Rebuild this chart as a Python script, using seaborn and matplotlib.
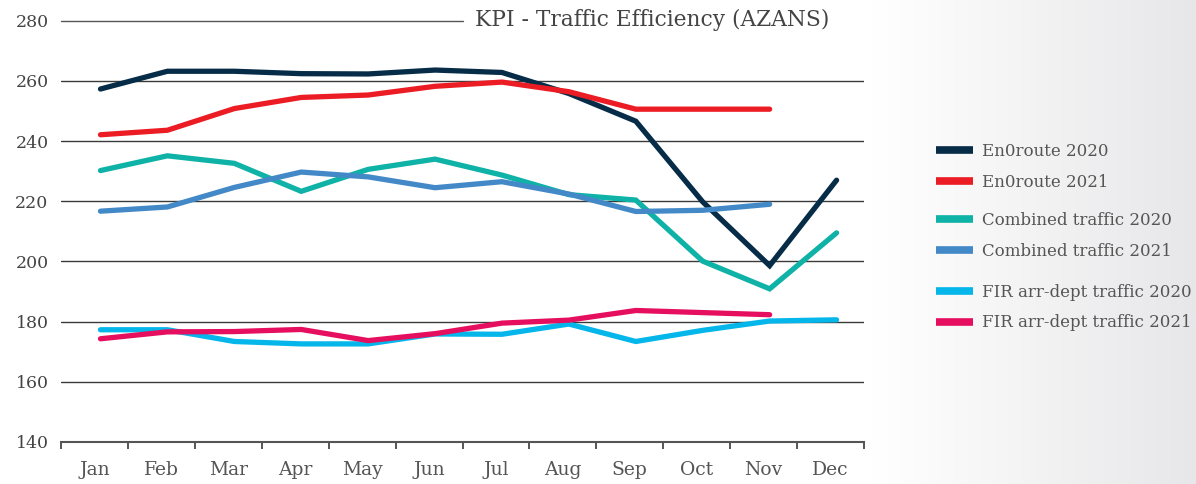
import numpy as np
import pandas as pd
import matplotlib
matplotlib.use("Agg")
import matplotlib.pyplot as plt
import seaborn as sns
from matplotlib.ticker import FixedLocator, NullFormatter

months = ["Jan", "Feb", "Mar", "Apr", "May", "Jun", "Jul", "Aug", "Sep", "Oct", "Nov", "Dec"]
enroute_2020 = [257.3, 263.2, 263.2, 262.4, 262.3, 263.6, 262.8, 255.8, 246.6, 219.8, 198.6, 227.0]
enroute_2021 = [242.1, 243.6, 250.8, 254.5, 255.3, 258.2, 259.6, 256.4, 250.6, 250.6, 250.6, np.nan]
combined_2020 = [230.2, 235.1, 232.6, 223.3, 230.6, 234.0, 228.7, 222.2, 220.4, 200.1, 190.9, 209.5]
combined_2021 = [216.7, 218.1, 224.6, 229.7, 228.1, 224.5, 226.5, 222.4, 216.6, 217.0, 219.0, np.nan]
fir_2020 = [177.3, 177.3, 173.4, 172.6, 172.6, 175.9, 175.8, 179.2, 173.4, 177.1, 180.2, 180.6]
fir_2021 = [174.3, 176.6, 176.7, 177.4, 173.7, 176.0, 179.5, 180.5, 183.7, 183.0, 182.3, np.nan]

series_names = ["En0route 2020", "En0route 2021", "Combined traffic 2020",
                "Combined traffic 2021", "FIR arr-dept traffic 2020", "FIR arr-dept traffic 2021"]
series_values = [enroute_2020, enroute_2021, combined_2020, combined_2021, fir_2020, fir_2021]
colors = ["#062c47", "#ec1c24", "#0fb2a6", "#4389c8", "#04b6ea", "#e60f5f"]
y_ticks = [140, 160, 180, 200, 220, 240, 260, 280]
title = "KPI - Traffic Efficiency (AZANS)"

rows = []
for name, vals in zip(series_names, series_values):
    for i, v in enumerate(vals):
        rows.append({"idx": i, "value": v, "series": name})
df = pd.DataFrame(rows).dropna()

sns.set_theme(style="white")
plt.rcParams["font.family"] = ["DejaVu Serif"]

fig = plt.figure(figsize=(11.96, 4.84), dpi=100)

# background gradient on the right
bg = fig.add_axes([0, 0, 1, 1], zorder=-10)
xs = np.arange(1196)
t = np.clip((xs - 873) / (1196 - 873), 0, 1)
start = np.array([1.0, 1.0, 1.0])
end = np.array([0.906, 0.906, 0.914])
grad = np.repeat((start + (end - start) * t[:, None])[None, :, :], 2, axis=0)
bg.imshow(grad, aspect="auto", extent=[0, 1, 0, 1], interpolation="bilinear")
bg.set_axis_off()

ax = fig.add_axes([61 / 1196, 1 - 442 / 484, 803 / 1196, (442 - 20.7) / 484])
ax.set_facecolor("none")

sns.lineplot(data=df, x="idx", y="value", hue="series", hue_order=series_names,
             palette=colors, linewidth=3.8, ax=ax, legend=False, sort=False)
for ln in ax.get_lines():
    ln.set_solid_capstyle("round")
    ln.set_solid_joinstyle("miter")

ax.set_xlim(-0.59, 11.41)
ax.set_ylim(140, 280)

# gridlines
for yv in y_ticks[1:-1]:
    ax.axhline(yv, color="#3a3a3a", lw=1.0, zorder=0)
ax.axhline(y_ticks[-1], xmax=0.5, color="#555555", lw=1.0, zorder=0, clip_on=False)

for s in ["left", "right", "top"]:
    ax.spines[s].set_visible(False)
ax.spines["bottom"].set_color("#555555")
ax.spines["bottom"].set_linewidth(1.5)

ax.set_yticks(y_ticks)
ax.set_yticklabels([str(v) for v in y_ticks], fontsize=12.5, color="#444444")
ax.tick_params(axis="y", length=0, pad=9)

ax.xaxis.set_major_locator(FixedLocator([i - 0.09 for i in range(12)]))
ax.set_xticklabels(months)
ax.xaxis.set_minor_locator(FixedLocator([i - 0.59 for i in range(13)]))
ax.xaxis.set_minor_formatter(NullFormatter())
ax.tick_params(axis="x", which="major", length=0, pad=14, labelsize=13.5, labelcolor="#555555")
ax.tick_params(axis="x", which="minor", length=5, width=1.4, color="#555555", direction="out", bottom=True)
ax.set_xlabel("")
ax.set_ylabel("")

ax.text(475 / 1196, 1 - 20 / 484, title, transform=fig.transFigure, fontsize=15.7,
        color="#444444", va="center", ha="left")

# legends in three groups
handles = []
for c, n in zip(colors, series_names):
    handles.append(plt.Line2D([], [], color=c, lw=5.5, solid_capstyle="butt"))
centers = [167, 236, 307.5]
for g in range(3):
    leg = fig.legend(handles[2 * g:2 * g + 2], series_names[2 * g:2 * g + 2],
                     loc="center left", bbox_to_anchor=(936 / 1196, 1 - centers[g] / 484),
                     frameon=False, fontsize=12, handlelength=2.2, handletextpad=0.55,
                     labelspacing=0.82, borderpad=0, borderaxespad=0)
    for txt in leg.get_texts():
        txt.set_color("#555555")

fig.savefig("out.png", dpi=100)
